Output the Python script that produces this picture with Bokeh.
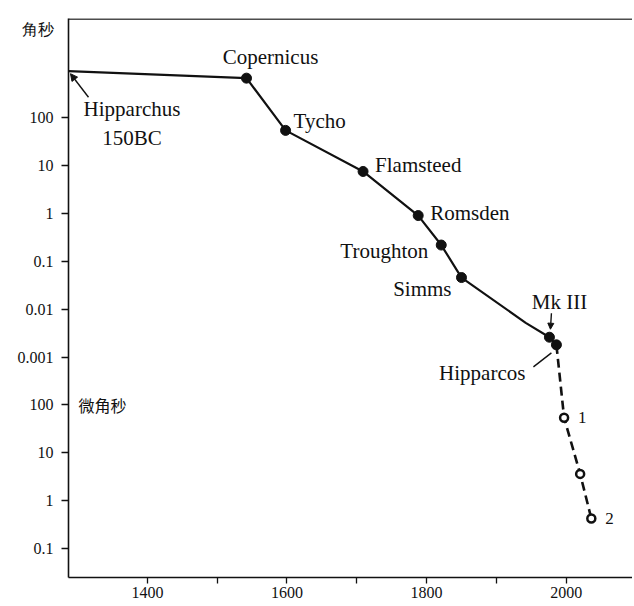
from bokeh.plotting import figure
from bokeh.models import (FixedTicker, CustomJSTickFormatter, Label, Arrow, NormalHead,
                          Span, ColumnDataSource, Range1d)
from bokeh.embed import file_html
from bokeh.resources import INLINE

# ---------------- data ----------------
# historical astrometric accuracy (arc seconds); Hipparchus (150 BC) is drawn at the axis start
hist_names  = ["Hipparchus\n150BC", "Copernicus", "Tycho", "Flamsteed", "Romsden",
               "Troughton", "Simms", "", "Mk III", "Hipparcos"]
hist_years  = [-150, 1542, 1598, 1709, 1788, 1821, 1850, 1942, 1976, 1986]
hist_arcsec = [950, 680, 55, 7.6, 0.91, 0.22, 0.046, 0.0052, 0.0026, 0.0018]
hist_marker = [False, True, True, True, True, True, True, False, True, True]

# projected future missions (dashed)
fut_names  = ["", "1", "", "2"]
fut_years  = [1986, 1997, 2020, 2036]
fut_arcsec = [0.0018, 5.4e-5, 3.6e-6, 4.2e-7]

x_ticks = [1400, 1500, 1600, 1700, 1800, 1900, 2000]
x_tick_labels = ["1400", "", "1600", "", "1800", "", "2000"]
y_tick_exps = [2, 1, 0, -1, -2, -3, -4, -5, -6, -7]
y_tick_labels = ["100", "10", "1", "0.1", "0.01", "0.001", "100", "10", "1", "0.1"]
y_unit_top = "角秒"        # arc seconds (upper part of the axis)
y_unit_low = "微角秒"      # micro arc seconds (lower part of the axis)

# ---------------- layout ----------------
W, H = 632, 605
ML, MR, MT, MB = 68, 0, 18, 28
X0, X1 = 1287, 2095
Y0, Y1 = 10 ** -7.61, 10 ** 4.08
FRAME_W = W - ML - MR
FRAME_H = H - MT - MB
PPY = FRAME_W / (X1 - X0)             # pixels per year
PPD = FRAME_H / (4.08 + 7.61)          # pixels per decade
UNIT_POS = 10 ** 3.86                  # height of the unit caption beside the axis

def shift(x, y, dx, dy):
    """move a data point by (dx, dy) screen pixels (dy downwards)"""
    return x + dx / PPY, y * 10 ** (-dy / PPD)

SERIF = "Liberation Serif"
INK = "#111111"

p = figure(width=W, height=H, output_backend="svg", toolbar_location=None,
           y_axis_type="log", x_range=Range1d(X0, X1), y_range=Range1d(Y0, Y1),
           min_border_left=ML, min_border_right=MR, min_border_top=MT, min_border_bottom=MB)
p.outline_line_color = None
p.grid.visible = False
p.background_fill_color = "white"

# axes
p.xaxis.ticker = FixedTicker(ticks=x_ticks)
p.xaxis.formatter = CustomJSTickFormatter(args=dict(xt=x_ticks, xl=x_tick_labels), code="""
    const i = xt.indexOf(Math.round(tick));
    return i >= 0 ? xl[i] : "";
""")
decades = [10.0 ** e for e in y_tick_exps]
# labels are drawn as major ticks (incl. the unit caption); tick marks as minor ticks at decades
p.yaxis.ticker = FixedTicker(ticks=decades + [UNIT_POS], minor_ticks=decades)
p.yaxis.formatter = CustomJSTickFormatter(
    args=dict(ye=y_tick_exps, yl=y_tick_labels, unit=y_unit_top), code="""
    if (tick > 2000) return unit;
    const e = Math.round(Math.log10(tick));
    const i = ye.indexOf(e);
    return i >= 0 ? yl[i] : "";
""")
for ax in (p.xaxis[0], p.yaxis[0]):
    ax.axis_line_color = INK
    ax.axis_line_width = 1.6
    ax.major_tick_line_color = INK
    ax.major_tick_line_width = 1.3
    ax.minor_tick_line_color = None
    ax.major_tick_in = 0
    ax.major_label_text_font = SERIF
    ax.major_label_text_font_size = "16px"
    ax.major_label_text_color = INK
p.xaxis.major_tick_out = 6
p.xaxis.major_label_standoff = 3
p.yaxis.major_tick_line_color = None
p.yaxis.major_tick_out = 7
p.yaxis.major_label_standoff = 8
p.yaxis.minor_tick_line_color = INK
p.yaxis.minor_tick_line_width = 1.3
p.yaxis.minor_tick_out = 7
p.yaxis.minor_tick_in = 0

# top frame line
p.add_layout(Span(location=10 ** 4.07, dimension="width", line_color=INK, line_width=1.5))

# ---------------- lines & markers ----------------
hx = [max(y, X0) for y in hist_years]
p.line(hx, hist_arcsec, line_color=INK, line_width=2.2)
mk = ColumnDataSource(dict(x=[x for x, m in zip(hx, hist_marker) if m],
                           y=[v for v, m in zip(hist_arcsec, hist_marker) if m]))
p.scatter("x", "y", source=mk, size=10, fill_color=INK, line_color=INK)

p.line(fut_years, fut_arcsec, line_color=INK, line_width=2.6, line_dash="9 5")
p.scatter(fut_years[1:], fut_arcsec[1:], size=8, fill_color="white", line_color=INK, line_width=2.5)

# ---------------- labels ----------------
hist_dx    = [63.5, 24, 8, 12, 12, -13, -10, 0, 10, -31]
hist_dy    = [52, -21, -9, -6, -3, 6, 11, 0, -35, 28]
hist_align = ["center", "center", "left", "left", "left", "right", "right", "left", "center", "right"]
src = ColumnDataSource(dict(x=hx, y=hist_arcsec, t=hist_names, dx=hist_dx, dy=hist_dy, a=hist_align))
p.text("x", "y", text="t", source=src, x_offset="dx", y_offset="dy", text_align="a",
       text_baseline="middle", text_font={"value": SERIF}, text_font_size="21px",
       text_color=INK, text_line_height=1.2)

fsrc = ColumnDataSource(dict(x=fut_years, y=fut_arcsec, t=fut_names))
p.text("x", "y", text="t", source=fsrc, x_offset=14, y_offset=0, text_align="left",
       text_baseline="middle", text_font={"value": SERIF}, text_font_size="17px", text_color=INK)

# arrows / leader lines
hxs, hys = shift(hx[0], hist_arcsec[0], 20, 26)
hxe, hye = shift(hx[0], hist_arcsec[0], 2, 2.5)
p.add_layout(Arrow(x_start=hxs, y_start=hys, x_end=hxe, y_end=hye, line_color=INK, line_width=1.4,
                   end=NormalHead(size=7, fill_color=INK, line_color=INK)))
mxs, mys = shift(hist_years[8], hist_arcsec[8], 2, -24)
mxe, mye = shift(hist_years[8], hist_arcsec[8], 1, -8)
p.add_layout(Arrow(x_start=mxs, y_start=mys, x_end=mxe, y_end=mye, line_color=INK, line_width=1.4,
                   end=NormalHead(size=6, fill_color=INK, line_color=INK)))
lxs, lys = shift(hist_years[9], hist_arcsec[9], -23, 22)
lxe, lye = shift(hist_years[9], hist_arcsec[9], -5, 8)
p.segment(x0=[lxs], y0=[lys], x1=[lxe], y1=[lye], line_color=INK, line_width=1.4)

# micro-arcsecond caption inside the plot, level with the 100 µas tick
p.add_layout(Label(x=X0, y=10.0 ** -4, x_offset=10, y_offset=0, text=y_unit_low, text_align="left",
                   text_baseline="middle", text_font="Noto Sans CJK SC", text_font_size="16px",
                   text_color=INK))

open("out.html", "w").write(file_html(p, INLINE))
